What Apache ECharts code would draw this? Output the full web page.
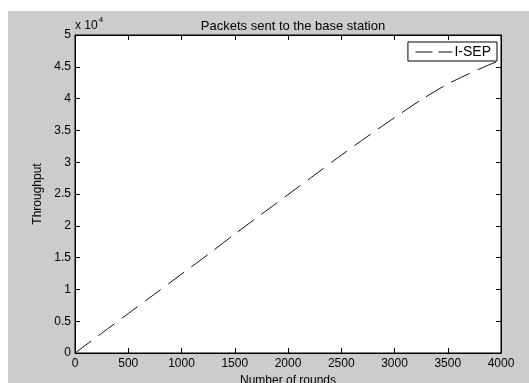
<!DOCTYPE html>
<html>
<head>
<meta charset="utf-8">
<script src="https://cdn.jsdelivr.net/npm/echarts@6/dist/echarts.min.js"></script>
<style>
html,body{margin:0;padding:0;background:#fff;}
#chart{width:529px;height:383px;}
</style>
</head>
<body>
<div id="chart"></div>
<script>
// Data
var rounds = [0, 250, 500, 750, 1000, 1250, 1500, 1750, 2000, 2250, 2500, 2750, 3000, 3250, 3500, 3750, 4000];
var throughput = [0, 3100, 6200, 9300, 12400, 15500, 18700, 21800, 24900, 28000, 31100, 34100, 37000, 39800, 42300, 44300, 46100];
var seriesName = 'I-SEP';
var titleText = 'Packets sent to the base station';
var xLabel = 'Number of rounds';
var yLabel = 'Throughput';

var font = 'Liberation Sans, Arial, sans-serif';
var chart = echarts.init(document.getElementById('chart'), null, {renderer: 'canvas'});
var pts = rounds.map(function (r, i) { return [r, throughput[i]]; });

var gridL = 75, gridT = 35, gridR = 28, gridB = 30;

chart.setOption({
  animation: false,
  backgroundColor: '#ffffff',
  textStyle: {fontFamily: font},
  graphic: [
    {type: 'rect', z: -100, shape: {x: 8, y: 11, width: 521, height: 372}, style: {fill: '#cccccc'}, silent: true},
    {type: 'text', z: 10, left: 75, top: 16, style: {
      text: '{a|x 10}{b|4}', fontFamily: font,
      rich: {a: {fontSize: 12, fill: '#000', fontFamily: font, verticalAlign: 'bottom', padding: [4, 0, 0, 0]},
             b: {fontSize: 8, fill: '#000', fontFamily: font, verticalAlign: 'top', padding: [0, 0, 7, 1]}}
    }}
  ],
  title: {
    text: titleText, left: 288, top: 15, textAlign: 'center',
    textStyle: {fontSize: 13, fontWeight: 'normal', color: '#000', fontFamily: font}
  },
  legend: {
    show: true,
    right: 32, top: 42,
    padding: [3, 6, 2, 7],
    itemWidth: 37, itemHeight: 12,
    backgroundColor: '#fff', borderColor: '#000', borderWidth: 1, borderRadius: 0,
    itemStyle: {opacity: 0},
    lineStyle: {type: [17, 6], width: 1, color: '#111'},
    textStyle: {fontSize: 14, color: '#000', fontFamily: font, padding: [0, 0, 0, -3]},
    data: [seriesName]
  },
  grid: {left: gridL, top: gridT, right: gridR, bottom: gridB, containLabel: false, outerBoundsMode: 'none',
    show: true, backgroundColor: '#fff', borderColor: '#000', borderWidth: 1},
  xAxis: [{
    type: 'value', min: 0, max: 4000, interval: 500, position: 'bottom',
    name: xLabel, nameLocation: 'middle', nameGap: 22,
    nameTextStyle: {fontSize: 12, color: '#000', fontFamily: font},
    axisLine: {show: true, onZero: false, lineStyle: {color: '#000', width: 1}},
    axisTick: {show: true, inside: true, length: 5, lineStyle: {color: '#000'}},
    axisLabel: {fontSize: 12, color: '#000', margin: 5, fontFamily: font,
      formatter: function (v) { return String(v); }},
    splitLine: {show: false}
  }, {
    type: 'value', min: 0, max: 4000, interval: 500, position: 'top',
    axisLine: {show: true, onZero: false, lineStyle: {color: '#000', width: 1}},
    axisTick: {show: true, inside: true, length: 5, lineStyle: {color: '#000'}},
    axisLabel: {show: false}, splitLine: {show: false}
  }],
  yAxis: [{
    type: 'value', min: 0, max: 50000, interval: 5000, position: 'left',
    name: yLabel, nameLocation: 'middle', nameGap: 31,
    nameTextStyle: {fontSize: 12, color: '#000', fontFamily: font},
    axisLine: {show: true, onZero: false, lineStyle: {color: '#000', width: 1}},
    axisTick: {show: true, inside: true, length: 5, lineStyle: {color: '#000'}},
    axisLabel: {fontSize: 12, color: '#000', margin: 4, fontFamily: font,
      formatter: function (v) { return String(Math.round(v / 1000) / 10); }},
    splitLine: {show: false}
  }, {
    type: 'value', min: 0, max: 50000, interval: 5000, position: 'right',
    axisLine: {show: true, onZero: false, lineStyle: {color: '#000', width: 1}},
    axisTick: {show: true, inside: true, length: 5, lineStyle: {color: '#000'}},
    axisLabel: {show: false}, splitLine: {show: false}
  }],
  series: [{
    name: seriesName, type: 'line', data: pts, smooth: 0.3,
    showSymbol: false, symbol: 'none',
    lineStyle: {color: '#111', width: 1, type: [20, 9]},
    itemStyle: {color: '#111'}
  }]
});
</script>
</body>
</html>
